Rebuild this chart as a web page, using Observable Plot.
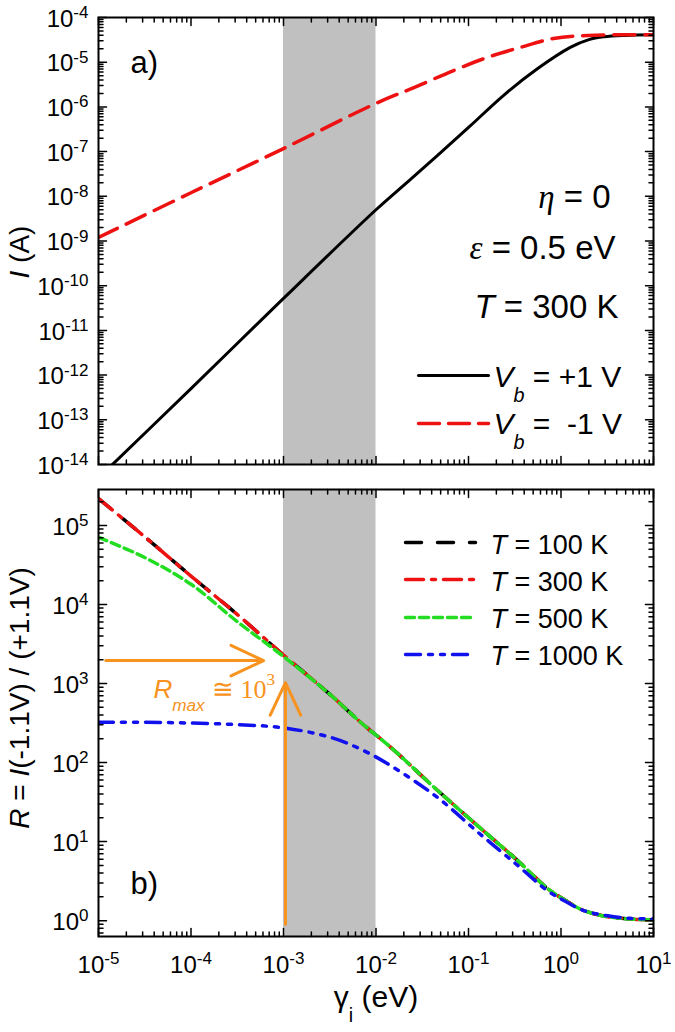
<!DOCTYPE html>
<html>
<head>
<meta charset="utf-8">
<script src="https://cdn.jsdelivr.net/npm/d3@7"></script>
<script src="https://cdn.jsdelivr.net/npm/@observablehq/plot@0.6"></script>
<style>
  body { margin: 0; background: #fff; }
  #chart svg { display: block; }
  #chart text { white-space: pre; }
</style>
</head>
<body>
<div id="chart"></div>
<script>
// ---------------- data ----------------
const xDomain = [1e-5, 1e1];
const topYDomain = [1e-14, 1e-4];
const botYDomain = [0.63, 2.85e5];
const shadedBand = [{x1: 1e-3, x2: 1e-2}];

const xMajorTicks = [1e-5, 1e-4, 1e-3, 1e-2, 1e-1, 1e0, 1e1];
const xTickLabels = ["10^{-5}", "10^{-4}", "10^{-3}", "10^{-2}", "10^{-1}", "10^{0}", "10^{1}"];
const topYMajorTicks = [1e-14, 1e-13, 1e-12, 1e-11, 1e-10, 1e-9, 1e-8, 1e-7, 1e-6, 1e-5, 1e-4];
const topYTickLabels = ["10^{-14}", "10^{-13}", "10^{-12}", "10^{-11}", "10^{-10}", "10^{-9}", "10^{-8}", "10^{-7}", "10^{-6}", "10^{-5}", "10^{-4}"];
const botYMajorTicks = [1e0, 1e1, 1e2, 1e3, 1e4, 1e5];
const botYTickLabels = ["10^{0}", "10^{1}", "10^{2}", "10^{3}", "10^{4}", "10^{5}"];

// panel a) : current vs gamma_i
const gammaPlus = [1e-5, 1e-4, 1e-3, 1e-2, 2.2e-2, 4.6e-2, 0.105, 0.24, 0.56, 1.26, 2.0, 2.9, 5.0, 10];
const currentPlus = [5.0e-15, 5.0e-13, 5.2e-11, 5.0e-9, 2.1e-8, 8.1e-8, 3.8e-7, 1.82e-6, 7.2e-6, 2.14e-5, 3.2e-5, 3.7e-5, 3.98e-5, 4.1e-5];
const gammaMinus = [1e-5, 1e-4, 1e-3, 1e-2, 2.57e-2, 6.9e-2, 0.162, 0.363, 0.83, 1.95, 6.8, 10];
const currentMinus = [1.2e-9, 1.2e-8, 1.17e-7, 1.2e-6, 2.7e-6, 6.5e-6, 1.29e-5, 2.14e-5, 3.4e-5, 3.98e-5, 4.1e-5, 4.1e-5];

// panel b) : rectification ratio vs gamma_i
const gammaR = [1e-5, 3.2e-5, 1e-4, 3.2e-4, 1e-3, 3.2e-3, 6.8e-3, 1.45e-2, 4.6e-2, 0.126, 0.34, 0.71, 1.07, 1.74, 3.2, 5.6, 10];
const ratio100K = [2.19e5, 7.1e4, 2.29e4, 7.4e3, 2.29e3, 724, 324, 155, 44.7, 15.8, 5.75, 2.57, 1.86, 1.35, 1.12, 1.05, 1.02];
const ratio300K = [2.19e5, 7.1e4, 2.29e4, 7.4e3, 2.29e3, 724, 324, 155, 44.7, 15.8, 5.75, 2.57, 1.86, 1.35, 1.12, 1.05, 1.02];
const ratio500K = [7.1e4, 3.9e4, 1.8e4, 6.0e3, 2.2e3, 724, 324, 155, 44.7, 15.8, 5.75, 2.57, 1.86, 1.35, 1.12, 1.05, 1.02];
const ratio1000K = [324, 324, 316, 302, 275, 209, 148, 91, 36.3, 13.2, 5.0, 2.4, 1.8, 1.35, 1.15, 1.07, 1.05];
const temperatures = ["100 K", "300 K", "500 K", "1000 K"];

const rmaxArrows = [
  {x1: 1.2e-5, y1: 1950, x2: 6.1e-4, y2: 1950},
  {x1: 1.05e-3, y1: 0.9, x2: 1.05e-3, y2: 1030}
];

// ---------------- helpers ----------------
const SANS = "'Liberation Sans', Arial, sans-serif";
const SERIF = "'Liberation Serif', 'Times New Roman', serif";
const ORANGE = "#f7931e";
const RED = "#ee1111", GREEN = "#22dd22", BLUE = "#1111ee";

const toRows = (xs, ys) => xs.map((x, i) => ({x, y: ys[i]}));
const labelFor = (ticks, labels) => (d) => labels[ticks.indexOf(d)];

function minorTicks([lo, hi]) {
  const out = [];
  for (let e = Math.floor(Math.log10(lo)); e <= Math.ceil(Math.log10(hi)); e++)
    for (let k = 2; k <= 9; k++) {
      const v = k * Math.pow(10, e);
      if (v >= lo && v <= hi) out.push(v);
    }
  return out;
}

const lineShape = {draw(ctx, l) { ctx.moveTo(0, 0); ctx.lineTo(0, -l); }};

function frameTicks(xDom, yDom, xMajor, yMajor) {
  const marks = [];
  const common = {anchor: "start", shape: lineShape, stroke: "black", strokeWidth: 1.5};
  for (const [vals, len] of [[xMajor, 8], [minorTicks(xDom), 4.5]]) {
    marks.push(Plot.vector(vals, {x: d => d, y: () => yDom[0], rotate: 0, length: len, ...common}));
    marks.push(Plot.vector(vals, {x: d => d, y: () => yDom[1], rotate: 180, length: len, ...common}));
  }
  for (const [vals, len] of [[yMajor, 8], [minorTicks(yDom), 4.5]]) {
    marks.push(Plot.vector(vals, {y: d => d, x: () => xDom[0], rotate: 90, length: len, ...common}));
    marks.push(Plot.vector(vals, {y: d => d, x: () => xDom[1], rotate: -90, length: len, ...common}));
  }
  return marks;
}

function note(text, {dx, dy, size, anchor = "start", fill = "black", frameAnchor = "top-left", rotate = 0}) {
  return Plot.text([text], {text: d => d, frameAnchor, dx, dy, fontSize: size, textAnchor: anchor,
    lineAnchor: "bottom", fill, rotate});
}

function legendLine({dx, dy, stroke, dash, width = 3}) {
  return Plot.vector([0], {frameAnchor: "top-left", dx, dy, rotate: 90, length: 70, anchor: "start",
    shape: lineShape, stroke, strokeWidth: width, strokeDasharray: dash});
}

// rich text: *italic*, ~serif italic~, %serif%, ^{sup}, _{sub}
function richify(selection, {supShift = 0.5, subShift = 0.5, ratio = 0.68} = {}) {
  selection.each(function () {
    const el = this;
    if (el.__rich) return;
    const s = el.textContent;
    if (!/[*~%]|\^\{|_\{/.test(s)) return;
    el.__rich = true;
    const base = parseFloat(getComputedStyle(el).fontSize) || 16;
    const re = /\^\{([^}]*)\}|_\{([^}]*)\}|\*([^*]*)\*|~([^~]*)~|%([^%]*)%|([^*~%^_]+|[\^_])/g;
    while (el.firstChild) el.removeChild(el.firstChild);
    let cur = 0, m;
    const styleOf = (inner) => {
      let mm;
      if ((mm = inner.match(/^\*(.*)\*$/))) return [mm[1], {italic: true}];
      if ((mm = inner.match(/^~(.*)~$/))) return [mm[1], {italic: true, serif: true}];
      if ((mm = inner.match(/^%(.*)%$/))) return [mm[1], {serif: true}];
      return [inner, {}];
    };
    const add = (txt, style, shift, small) => {
      const t = document.createElementNS("http://www.w3.org/2000/svg", "tspan");
      t.textContent = txt;
      if (style.italic) t.setAttribute("font-style", "italic");
      if (style.serif) t.setAttribute("font-family", SERIF);
      if (small) t.setAttribute("font-size", (base * ratio).toFixed(2));
      const dy = shift - cur;
      if (dy) t.setAttribute("dy", dy.toFixed(2));
      cur = shift;
      el.appendChild(t);
    };
    while ((m = re.exec(s))) {
      if (m[1] != null) { const [t, st] = styleOf(m[1]); add(t, st, -supShift * base, true); }
      else if (m[2] != null) { const [t, st] = styleOf(m[2]); add(t, st, subShift * base, true); }
      else if (m[3] != null) add(m[3], {italic: true}, 0, false);
      else if (m[4] != null) add(m[4], {italic: true, serif: true}, 0, false);
      else if (m[5] != null) add(m[5], {serif: true}, 0, false);
      else add(m[6], {}, 0, false);
    }
  });
}

const style = {fontFamily: SANS, color: "black", background: "white", overflow: "visible"};

// ---------------- panel a ----------------
const plotA = Plot.plot({
  width: 675, height: 477,
  marginTop: 17, marginBottom: 13, marginLeft: 98, marginRight: 22,
  style,
  x: {type: "log", domain: xDomain, axis: null},
  y: {type: "log", domain: topYDomain, axis: null},
  marks: [
    Plot.rect(shadedBand, {x1: "x1", x2: "x2", y1: () => topYDomain[0], y2: () => topYDomain[1], fill: "#c0c0c0"}),
    Plot.line(toRows(gammaPlus, currentPlus), {x: "x", y: "y", stroke: "black", strokeWidth: 3, curve: "catmull-rom", clip: true}),
    Plot.line(toRows(gammaMinus, currentMinus), {x: "x", y: "y", stroke: RED, strokeWidth: 3.5, strokeDasharray: "21,10", curve: "catmull-rom", clip: true}),
    Plot.axisY({ticks: topYMajorTicks, tickFormat: labelFor(topYMajorTicks, topYTickLabels), tickSize: 0, tickPadding: 10, fontSize: 24, label: null, dy: 1.5}),
    note("*I* (A)", {frameAnchor: "left", dx: -70, dy: 11, size: 28, anchor: "middle", rotate: -90}),
    note("a)", {dx: 32, dy: 55, size: 31}),
    note("~η~ = 0", {dx: 512, dy: 190, size: 33, anchor: "end"}),
    note("~ε~ = 0.5 eV", {dx: 517, dy: 241, size: 33, anchor: "end"}),
    note("*T* = 300 K", {dx: 520, dy: 300, size: 33, anchor: "end"}),
    legendLine({dx: 320, dy: 358, stroke: "black", dash: null, width: 3}),
    legendLine({dx: 320, dy: 406, stroke: RED, dash: "21,9", width: 3.5}),
    note("*V*_{*b*} = +1 V", {dx: 395, dy: 369, size: 30}),
    note("*V*_{*b*} =  -1 V", {dx: 395, dy: 416, size: 30}),
    ...frameTicks(xDomain, topYDomain, xMajorTicks, topYMajorTicks),
    Plot.frame({stroke: "black", strokeWidth: 2})
  ]
});

// ---------------- panel b ----------------
const bLegend = [
  {stroke: "black", dash: "16,16"},
  {stroke: RED, dash: "18,8,4,8"},
  {stroke: GREEN, dash: "9,5"},
  {stroke: BLUE, dash: "15,8,4,8,4,8"}
];
const bLineY = [53, 90, 128, 165];
const bTextY = [64, 101, 138, 175];

const plotB = Plot.plot({
  width: 675, height: 555,
  marginTop: 12, marginBottom: 96, marginLeft: 98, marginRight: 22,
  style,
  x: {type: "log", domain: xDomain, axis: null},
  y: {type: "log", domain: botYDomain, axis: null},
  marks: [
    Plot.rect(shadedBand, {x1: "x1", x2: "x2", y1: () => botYDomain[0], y2: () => botYDomain[1], fill: "#c0c0c0"}),
    Plot.line(toRows(gammaR, ratio100K), {x: "x", y: "y", stroke: "black", strokeWidth: 3.5, strokeDasharray: bLegend[0].dash, curve: "catmull-rom", clip: true}),
    Plot.line(toRows(gammaR, ratio300K), {x: "x", y: "y", stroke: RED, strokeWidth: 3.5, strokeDasharray: bLegend[1].dash, curve: "catmull-rom", clip: true}),
    Plot.line(toRows(gammaR, ratio500K), {x: "x", y: "y", stroke: GREEN, strokeWidth: 3.5, strokeDasharray: bLegend[2].dash, curve: "catmull-rom", clip: true}),
    Plot.line(toRows(gammaR, ratio1000K), {x: "x", y: "y", stroke: BLUE, strokeWidth: 3.5, strokeDasharray: bLegend[3].dash, curve: "catmull-rom", clip: true}),
    Plot.arrow(rmaxArrows, {x1: "x1", y1: "y1", x2: "x2", y2: "y2", stroke: ORANGE, strokeWidth: 3, headLength: 18, headAngle: 50, bend: 0}),
    note("*R*_{*max*} %≅ 10%^{%3%}", {dx: 55, dy: 208, size: 26, fill: ORANGE}),
    Plot.axisY({ticks: botYMajorTicks, tickFormat: labelFor(botYMajorTicks, botYTickLabels), tickSize: 0, tickPadding: 10, fontSize: 24, label: null, dy: 1.5}),
    Plot.axisX({ticks: xMajorTicks, tickFormat: labelFor(xMajorTicks, xTickLabels), tickSize: 0, tickPadding: 19, fontSize: 24, label: null}),
    note("*R* = *I*(-1.1V) / (+1.1V)", {frameAnchor: "left", dx: -70, dy: -15, size: 28, anchor: "middle", rotate: -90}),
    note("γ_{i} (eV)", {frameAnchor: "bottom", dx: 0, dy: 70, size: 30, anchor: "middle"}),
    note("b)", {dx: 32, dy: 404, size: 31}),
    ...bLegend.map((l, i) => legendLine({dx: 307, dy: bLineY[i], stroke: l.stroke, dash: l.dash, width: 3.5})),
    ...temperatures.map((t, i) => note(`*T* = ${t}`, {dx: 392, dy: bTextY[i], size: 27})),
    ...frameTicks(xDomain, botYDomain, xMajorTicks, botYMajorTicks),
    Plot.frame({stroke: "black", strokeWidth: 2})
  ]
});

const chart = document.getElementById("chart");
chart.appendChild(plotA);
chart.appendChild(plotB);
for (const svg of [plotA, plotB]) {
  richify(d3.select(svg).selectAll('g[aria-label$="tick label"] text'), {supShift: 0.36, ratio: 0.71});
  richify(d3.select(svg).selectAll("text"), {supShift: 0.5, subShift: 0.5, ratio: 0.66});
}
</script>
</body>
</html>
